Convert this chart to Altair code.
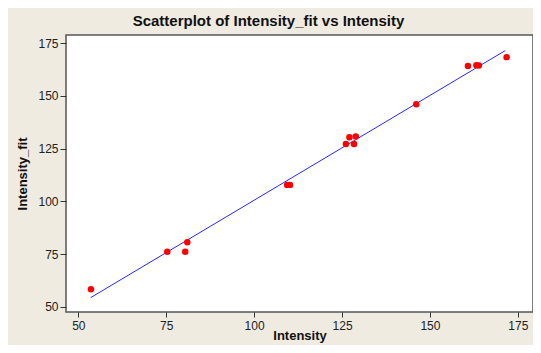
import altair as alt
import pandas as pd

# Observed points
intensity = [53.6, 75.3, 80.4, 81.0, 109.4, 110.2, 126.1, 127.1, 128.4, 128.9, 146.1, 160.8, 163.2, 163.9, 171.8]
intensity_fit = [58.3, 76.1, 76.1, 80.6, 107.8, 107.8, 127.2, 130.4, 127.2, 130.7, 146.1, 164.2, 164.6, 164.4, 168.4]

# Fitted line end points
line_x = [53.5, 171.4]
line_y = [54.3, 171.5]

tick_vals = [50, 75, 100, 125, 150, 175]

pts = pd.DataFrame({"Intensity": intensity, "Intensity_fit": intensity_fit})
ln = pd.DataFrame({"Intensity": line_x, "Intensity_fit": line_y})

FONT = "Liberation Sans"
xscale = alt.Scale(domain=[46.5, 179.3], nice=False, zero=False)
yscale = alt.Scale(domain=[47.5, 178.9], nice=False, zero=False)

xaxis = alt.Axis(values=tick_vals, grid=False, domain=False, tickSize=5, tickColor="#333",
                 labelPadding=3, labelFontSize=12, labelFont=FONT, labelColor="#222",
                 title="Intensity", titleFont=FONT, titleFontSize=13, titleFontWeight="bold",
                 titleColor="#111", titleY=27, titleBaseline="alphabetic")
yaxis = alt.Axis(values=tick_vals, grid=False, domain=False, tickSize=6, tickColor="#333",
                 labelPadding=2, labelFontSize=12, labelFont=FONT, labelColor="#222",
                 title="Intensity_fit", titleFont=FONT, titleFontSize=13, titleFontWeight="bold",
                 titleColor="#111", titleX=-44, titleY=138.5, titleBaseline="middle")

line = alt.Chart(ln).mark_line(color="#0000ff", strokeWidth=1, opacity=0.85).encode(
    x=alt.X("Intensity:Q", scale=xscale, axis=xaxis),
    y=alt.Y("Intensity_fit:Q", scale=yscale, axis=yaxis),
)
points = alt.Chart(pts).mark_circle(color="#ff0000", size=42, opacity=1).encode(
    x=alt.X("Intensity:Q", scale=xscale),
    y=alt.Y("Intensity_fit:Q", scale=yscale),
)

chart = alt.layer(line, points).properties(
    width=467, height=277,
    autosize="none",
    padding={"left": 58, "top": 27, "right": 0, "bottom": 33},
    background="#EFEBE1",
    title=alt.Title("Scatterplot of Intensity_fit vs Intensity", font=FONT, fontSize=15,
                    fontWeight="bold", color="#111", anchor="middle", dx=-31,
                    baseline="alphabetic", offset=12, dy=18),
).configure_view(fill="white", stroke="#555", strokeWidth=1.5)

chart.save("out.html", embed_options={"renderer": "svg", "actions": False})
